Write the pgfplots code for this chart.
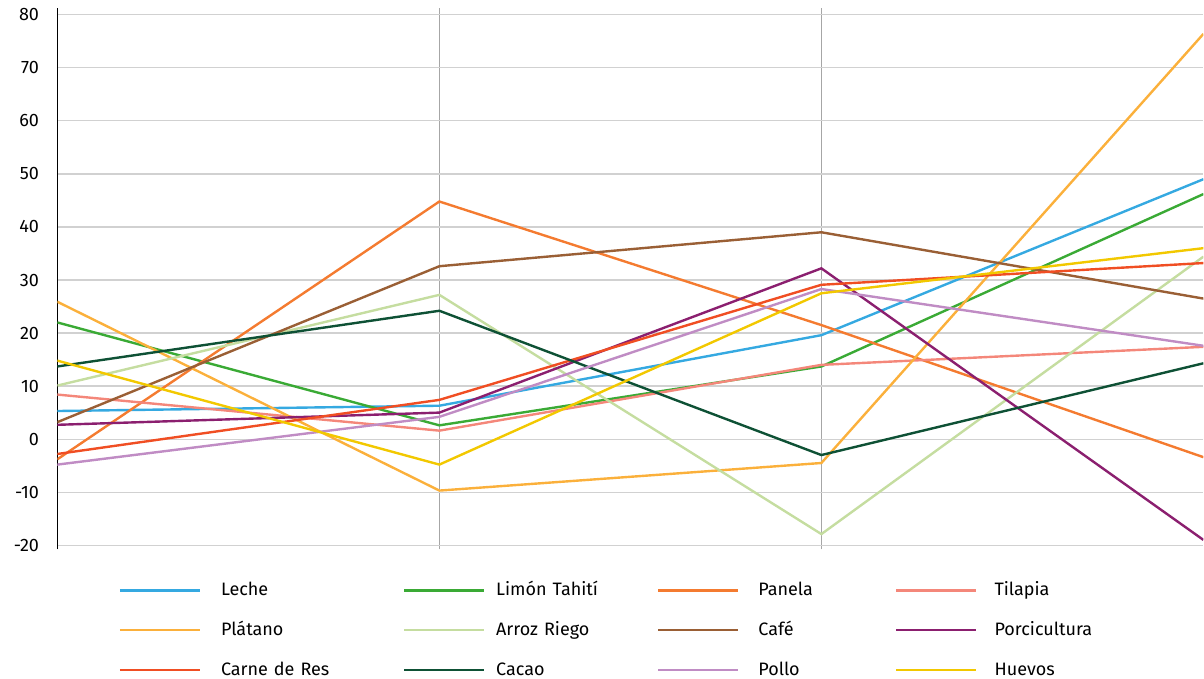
\documentclass[border=0pt]{standalone}
\usepackage{fontspec}
\setmainfont{Fira Sans}
\usepackage{pgfplots}
\usepackage{pgfplotstable}
\pgfplotsset{compat=1.18}

\definecolor{cLeche}{HTML}{35A9E1}
\definecolor{cLimon}{HTML}{3AAA35}
\definecolor{cPanela}{HTML}{F47B30}
\definecolor{cTilapia}{HTML}{F4877A}
\definecolor{cPlatano}{HTML}{FBB03B}
\definecolor{cArroz}{HTML}{C5DDA0}
\definecolor{cCafe}{HTML}{9A5F35}
\definecolor{cPorci}{HTML}{8B1F6F}
\definecolor{cCarne}{HTML}{F04E23}
\definecolor{cCacao}{HTML}{0E5135}
\definecolor{cPollo}{HTML}{C08CC4}
\definecolor{cHuevos}{HTML}{F2C800}

\pgfplotstableread{
x leche limon panela tilapia platano arroz cafe porci carne cacao pollo huevos
0 5.3 22.0 -3.8 8.4 25.9 10.1 3.2 2.7 -2.8 13.7 -4.8 14.8
1 6.3 2.6 44.8 1.6 -9.7 27.2 32.6 5.0 7.4 24.2 4.2 -4.8
2 19.6 13.7 21.5 14.0 -4.5 -17.9 39.0 32.2 29.1 -3.0 28.3 27.5
3 49.0 46.2 -3.4 17.4 76.4 34.4 26.5 -19.0 33.2 14.3 17.6 36.0
}\data

\begin{document}
\begin{tikzpicture}
\begin{axis}[
  scale only axis,
  width=573.5pt, height=271pt,
  xmin=0, xmax=3,
  ymin=-20.8, ymax=81.3,
  xtick={1,2}, xticklabels={},
  ytick={-20,-10,...,80},
  major tick length=0pt,
  axis y line*=left,
  axis x line*=bottom,
  x axis line style={draw=none},
  y axis line style={black, line width=0.8pt, -},
  xmajorgrids, ymajorgrids,
  x grid style={color=black!35, line width=0.8pt},
  y grid style={color=black!18, line width=0.6pt},
  tick label style={font=\fontsize{9}{11}\selectfont},
  /pgf/number format/assume math mode=true,
  yticklabel style={xshift=-6pt, text width=16.5pt, align=right, inner xsep=3pt, inner ysep=4.3pt},
  every axis plot/.append style={line width=1.2pt},
  legend columns=4,
  legend cell align=left,
  legend image code/.code={\draw[#1] (0pt,0pt) -- (40pt,0pt);},
  legend style={
    at={(rel axis cs:0,0)}, anchor=north west,
    xshift=30.5pt, yshift=-16pt,
    draw=none, fill=none, inner sep=0pt,
    font=\fontsize{9}{11}\selectfont,
    nodes={inner sep=0pt, text height=7pt, text depth=1.5pt},
    row sep=11.5pt,
    /tikz/column 1/.append style={column sep=10pt},
    /tikz/column 3/.append style={column sep=5.5pt},
    /tikz/column 5/.append style={column sep=9.5pt},
    /tikz/column 7/.append style={column sep=8.5pt},
    /tikz/column 2/.append style={text width=91pt},
    /tikz/column 4/.append style={text width=80.5pt},
    /tikz/column 6/.append style={text width=68.5pt},
    /tikz/column 8/.append style={text width=50pt},
  },
]
\addplot[cLeche] table[x=x,y=leche]{\data};
\addlegendentry{Leche}
\addplot[cLimon] table[x=x,y=limon]{\data};
\addlegendentry{Limón Tahití}
\addplot[cPanela] table[x=x,y=panela]{\data};
\addlegendentry{Panela}
\addplot[cTilapia] table[x=x,y=tilapia]{\data};
\addlegendentry{Tilapia}
\addplot[cPlatano] table[x=x,y=platano]{\data};
\addlegendentry{Plátano}
\addplot[cArroz] table[x=x,y=arroz]{\data};
\addlegendentry{Arroz Riego}
\addplot[cCafe] table[x=x,y=cafe]{\data};
\addlegendentry{Café}
\addplot[cPorci] table[x=x,y=porci]{\data};
\addlegendentry{Porcicultura}
\addplot[cCarne] table[x=x,y=carne]{\data};
\addlegendentry{Carne de Res}
\addplot[cCacao] table[x=x,y=cacao]{\data};
\addlegendentry{Cacao}
\addplot[cPollo] table[x=x,y=pollo]{\data};
\addlegendentry{Pollo}
\addplot[cHuevos] table[x=x,y=huevos]{\data};
\addlegendentry{Huevos}
\end{axis}
\end{tikzpicture}
\end{document}
